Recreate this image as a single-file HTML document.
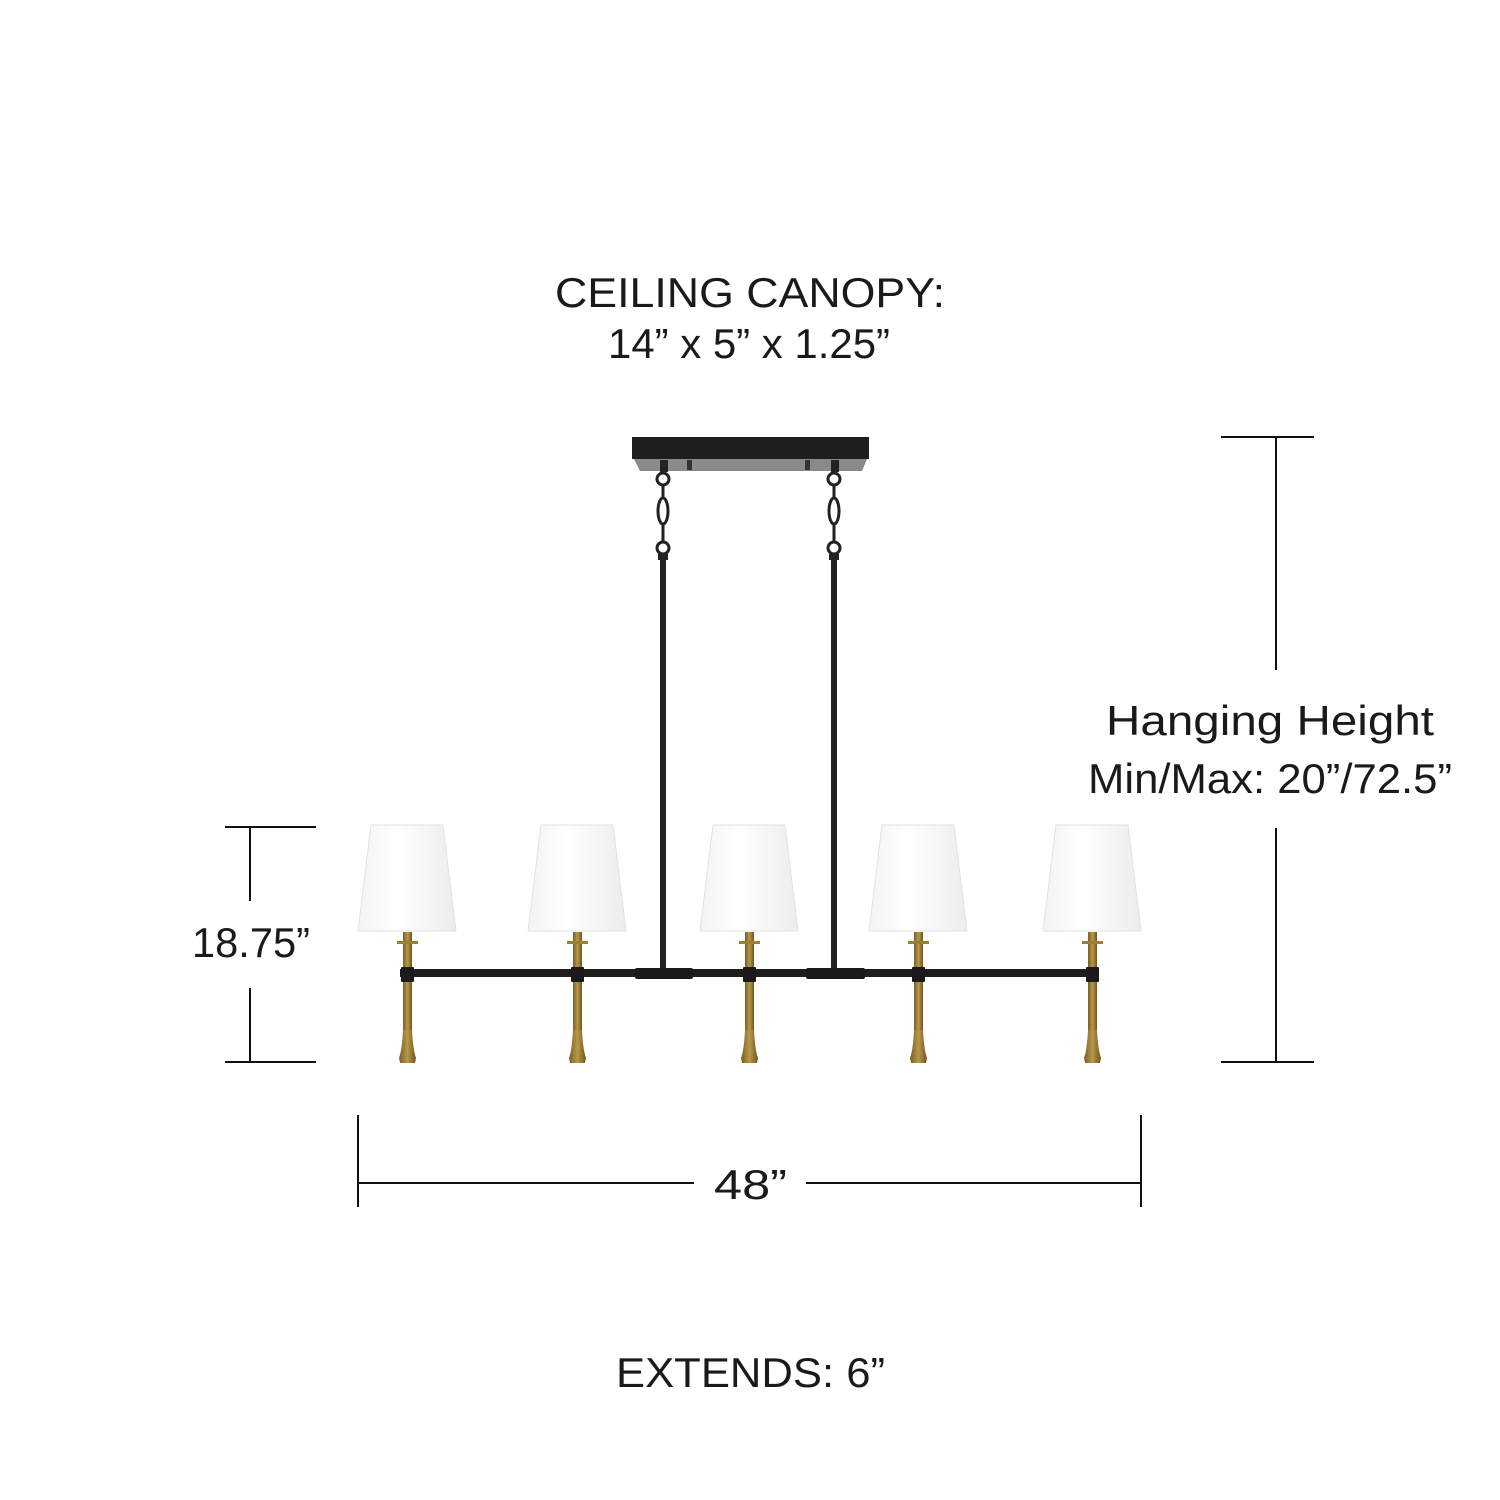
<!DOCTYPE html>
<html><head><meta charset="utf-8"><style>
html,body{margin:0;padding:0;background:#fff;width:1500px;height:1500px;overflow:hidden}
svg{display:block}
text{font-family:"Liberation Sans",sans-serif;font-size:42px;fill:#1a1a1a}
</style></head><body>
<svg width="1500" height="1500" viewBox="0 0 1500 1500" xmlns="http://www.w3.org/2000/svg">
<defs>
<linearGradient id="shade" x1="0" x2="1" y1="0" y2="0">
<stop offset="0" stop-color="#f3f3f3"/><stop offset="0.4" stop-color="#ffffff"/><stop offset="1" stop-color="#ececec"/>
</linearGradient>
<linearGradient id="brass" x1="0" x2="1">
<stop offset="0" stop-color="#7a5f22"/><stop offset="0.5" stop-color="#b89848"/><stop offset="1" stop-color="#6e5520"/>
</linearGradient>
</defs>
<!-- texts -->
<text x="555" y="307" textLength="390" lengthAdjust="spacingAndGlyphs">CEILING CANOPY:</text>
<text x="608" y="358" textLength="282" lengthAdjust="spacingAndGlyphs">14” x 5” x 1.25”</text>
<text x="1106" y="735" textLength="328" lengthAdjust="spacingAndGlyphs">Hanging Height</text>
<text x="1088" y="793" textLength="364" lengthAdjust="spacingAndGlyphs">Min/Max: 20”/72.5”</text>
<text x="192" y="957" textLength="118" lengthAdjust="spacingAndGlyphs">18.75”</text>
<text x="714" y="1199" textLength="73" lengthAdjust="spacingAndGlyphs">48”</text>
<text x="616" y="1387" textLength="269" lengthAdjust="spacingAndGlyphs">EXTENDS: 6”</text>
<!-- dimension lines -->
<g stroke="#111" stroke-width="2" fill="none">
<line x1="1221" y1="437" x2="1314" y2="437"/><line x1="1221" y1="1062" x2="1314" y2="1062"/>
<line x1="1276" y1="437" x2="1276" y2="670"/><line x1="1276" y1="828" x2="1276" y2="1062"/>
<line x1="225" y1="827" x2="316" y2="827"/><line x1="225" y1="1062" x2="316" y2="1062"/>
<line x1="250" y1="827" x2="250" y2="901"/><line x1="250" y1="988" x2="250" y2="1062"/>
<line x1="358" y1="1115" x2="358" y2="1207"/><line x1="1141" y1="1115" x2="1141" y2="1207"/>
<line x1="358" y1="1183" x2="694" y2="1183"/><line x1="806" y1="1183" x2="1141" y2="1183"/>
</g>
<!-- canopy -->
<rect x="632" y="437" width="237" height="22" fill="#1e1e1e"/>
<polygon points="634,459 867,459 862,471 640,471" fill="#8a8a8a"/>
<rect x="660" y="460" width="8" height="12" fill="#222"/><rect x="831" y="460" width="8" height="12" fill="#222"/>
<rect x="687" y="460" width="5" height="10" fill="#333"/><rect x="805" y="460" width="5" height="10" fill="#333"/>
<!-- chains -->
<g stroke="#222" stroke-width="3" fill="none">
<circle cx="663" cy="479" r="6"/><ellipse cx="663" cy="511" rx="5" ry="13"/><circle cx="663" cy="548" r="6"/>
<line x1="663" y1="485" x2="663" y2="498"/><line x1="663" y1="524" x2="663" y2="542"/>
<circle cx="834" cy="479" r="6"/><ellipse cx="834" cy="511" rx="5" ry="13"/><circle cx="834" cy="548" r="6"/>
<line x1="834" y1="485" x2="834" y2="498"/><line x1="834" y1="524" x2="834" y2="542"/>
</g>
<rect x="658" y="554" width="10" height="6" fill="#222"/><rect x="829" y="554" width="10" height="6" fill="#222"/>
<rect x="660" y="558" width="6" height="412" fill="#222"/><rect x="831" y="558" width="6" height="412" fill="#222"/>
<!-- bar -->
<rect x="400" y="969" width="697" height="8" fill="#1e1e1e"/>
<rect x="635" y="968" width="58" height="11" rx="2" fill="#1a1a1a"/>
<rect x="806" y="968" width="59" height="11" rx="2" fill="#1a1a1a"/>
<!-- lamps -->
<g id="lamp">
<polygon points="371,825 443,825 456,931 358,931" fill="url(#shade)" stroke="#e2e2e2" stroke-width="1"/>
<rect x="403" y="932" width="9" height="100" fill="url(#brass)"/>
<path d="M403,1030 Q402,1050 399,1058 L400,1063 L415,1063 L416,1058 Q413,1050 412,1030 Z" fill="url(#brass)"/>
<rect x="397" y="941" width="21" height="3" fill="#9c7f35"/>
<rect x="401" y="967" width="13" height="15" rx="1" fill="#1a1a1a"/>
</g>
<use href="#lamp" x="170"/>
<use href="#lamp" x="342"/>
<use href="#lamp" x="511"/>
<use href="#lamp" x="685"/>
</svg>
</body></html>
